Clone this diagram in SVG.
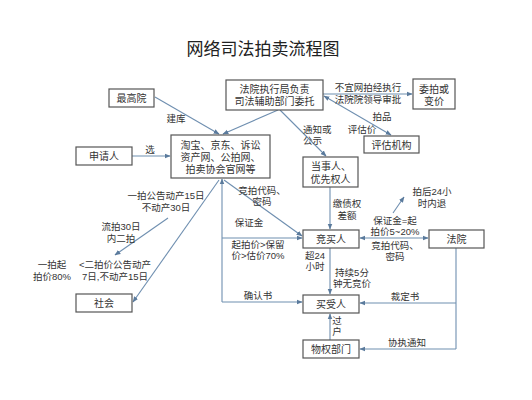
<svg xmlns="http://www.w3.org/2000/svg" width="532" height="400" viewBox="0 0 532 400">
<style>
text{font-family:"Liberation Sans","Noto Sans CJK SC",sans-serif;fill:#333;font-size:10px;text-anchor:middle}
.title{font-size:17px;fill:#222}
.box{fill:#fff;stroke:#555;stroke-width:1.2}
.ln{fill:none;stroke:#6f8fb0;stroke-width:1.1}
.lbl{font-size:9.5px}
</style>
<defs>
<marker id="ah" viewBox="0 0 10 10" refX="9" refY="5" markerWidth="6" markerHeight="6" orient="auto-start-reverse" markerUnits="userSpaceOnUse">
<path d="M0,1 L10,5 L0,9 z" fill="#5a7a9c"/>
</marker>
</defs>
<rect width="532" height="400" fill="#fff"/>
<text class="title" x="263" y="55">网络司法拍卖流程图</text>

<g id="connectors">
<line class="ln" x1="155" y1="97" x2="219" y2="134" marker-end="url(#ah)"/>
<line class="ln" x1="278" y1="110" x2="223" y2="134" marker-end="url(#ah)"/>
<line class="ln" x1="280" y1="110" x2="326" y2="156" marker-end="url(#ah)"/>
<line class="ln" x1="323" y1="94" x2="412" y2="94" marker-end="url(#ah)"/>
<line class="ln" x1="324" y1="96" x2="391" y2="135" marker-start="url(#ah)" marker-end="url(#ah)"/>
<line class="ln" x1="132" y1="156" x2="170" y2="156" marker-end="url(#ah)"/>
<line class="ln" x1="222" y1="302" x2="222" y2="179" marker-end="url(#ah)"/>
<line class="ln" x1="222" y1="238" x2="302" y2="238" marker-end="url(#ah)"/>
<line class="ln" x1="222" y1="302" x2="302" y2="302" marker-end="url(#ah)"/>
<line class="ln" x1="224" y1="180" x2="302" y2="236" marker-end="url(#ah)"/>
<line class="ln" x1="219" y1="180" x2="133" y2="302" marker-end="url(#ah)"/>
<line class="ln" x1="168" y1="218" x2="115" y2="255" marker-end="url(#ah)"/>
<line class="ln" x1="330" y1="187" x2="330" y2="229" marker-end="url(#ah)"/>
<line class="ln" x1="330" y1="248" x2="330" y2="294" marker-end="url(#ah)"/>
<line class="ln" x1="330" y1="340" x2="330" y2="314" marker-end="url(#ah)"/>
<line class="ln" x1="360" y1="238" x2="428" y2="238" marker-start="url(#ah)" marker-end="url(#ah)"/>
<line class="ln" x1="393" y1="213" x2="404" y2="197" marker-end="url(#ah)"/>
<line class="ln" x1="456" y1="248" x2="456" y2="349"/>
<line class="ln" x1="456" y1="303" x2="360" y2="303" marker-end="url(#ah)"/>
<line class="ln" x1="456" y1="349" x2="360" y2="349" marker-end="url(#ah)"/>
</g>

<g id="labels">
<text class="lbl" x="176" y="122">建库</text>
<text class="lbl" x="303" y="133" style="text-anchor:start">通知或</text>
<text class="lbl" x="303" y="144" style="text-anchor:start">公示</text>
<text class="lbl" x="368" y="91">不宜网拍经执行</text>
<text class="lbl" x="368" y="103">法院院领导审批</text>
<text class="lbl" x="382" y="120">拍品</text>
<text class="lbl" x="362" y="133">评估价</text>
<text class="lbl" x="150" y="153">选</text>
<text class="lbl" x="166" y="199">一拍公告动产15日</text>
<text class="lbl" x="166" y="211">不动产30日</text>
<text class="lbl" x="121" y="230">流拍30日</text>
<text class="lbl" x="121" y="242">内二拍</text>
<text class="lbl" x="52" y="268">一拍起</text>
<text class="lbl" x="52" y="280">拍价80%</text>
<text class="lbl" x="115" y="268">&lt;二拍价公告动产</text>
<text class="lbl" x="115" y="280">7日,不动产15日</text>
<text class="lbl" x="262" y="194">竞拍代码、</text>
<text class="lbl" x="262" y="205">密码</text>
<text class="lbl" x="249" y="226">保证金</text>
<text class="lbl" x="258" y="248">起拍价&gt;保留</text>
<text class="lbl" x="258" y="259">价&gt;估价70%</text>
<text class="lbl" x="258" y="299">确认书</text>
<text class="lbl" x="347" y="207">缴债权</text>
<text class="lbl" x="347" y="219">差额</text>
<text class="lbl" x="432" y="195">拍后24小</text>
<text class="lbl" x="432" y="207">时内退</text>
<text class="lbl" x="395" y="224">保证金=起</text>
<text class="lbl" x="395" y="235">拍价5~20%</text>
<text class="lbl" x="395" y="249">竞拍代码、</text>
<text class="lbl" x="395" y="260">密码</text>
<text class="lbl" x="315" y="259">超24</text>
<text class="lbl" x="315" y="270">小时</text>
<text class="lbl" x="352" y="276">持续5分</text>
<text class="lbl" x="352" y="287">钟无竞价</text>
<text class="lbl" x="405" y="300">裁定书</text>
<text class="lbl" x="407" y="346">协执通知</text>
<text class="lbl" x="337" y="324">过</text>
<text class="lbl" x="337" y="335">户</text>
</g>

<g id="n-zuigaoyuan"><rect class="box" x="109" y="89" width="45" height="18"/><text x="131.5" y="102">最高院</text></g>
<g id="n-fayuanzhixing"><rect class="box" x="226" y="80" width="97" height="30"/><text x="274.5" y="93">法院执行局负责</text><text x="274.5" y="105">司法辅助部门委托</text></g>
<g id="n-weipai"><rect class="box" x="413" y="79" width="42" height="30"/><text x="434" y="92.5">委拍或</text><text x="434" y="104.5">变价</text></g>
<g id="n-platform"><rect class="box" x="171" y="135" width="99" height="43"/><text x="220.5" y="148.5">淘宝、京东、诉讼</text><text x="220.5" y="160.5">资产网、公拍网、</text><text x="220.5" y="172.5">拍卖协会官网等</text></g>
<g id="n-shenqingren"><rect class="box" x="76" y="147" width="56" height="18"/><text x="104" y="160">申请人</text></g>
<g id="n-pinggu"><rect class="box" x="364" y="136" width="55" height="17"/><text x="391.5" y="148.5">评估机构</text></g>
<g id="n-dangshiren"><rect class="box" x="303" y="157" width="55" height="30"/><text x="331" y="170">当事人、</text><text x="330.5" y="182.5">优先权人</text></g>
<g id="n-jingmairen"><rect class="box" x="303" y="230" width="56" height="18"/><text x="331" y="243">竞买人</text></g>
<g id="n-fayuan"><rect class="box" x="429" y="230" width="55" height="18"/><text x="456.5" y="243">法院</text></g>
<g id="n-maishouren"><rect class="box" x="303" y="295" width="56" height="18"/><text x="331" y="308">买受人</text></g>
<g id="n-wuquan"><rect class="box" x="303" y="340" width="56" height="18"/><text x="331" y="353">物权部门</text></g>
<g id="n-shehui"><rect class="box" x="76" y="294" width="56" height="18"/><text x="104" y="307">社会</text></g>
</svg>
